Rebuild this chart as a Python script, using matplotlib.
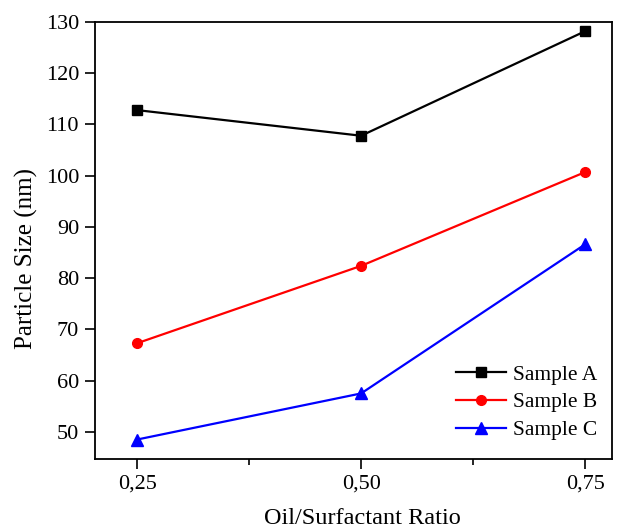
import matplotlib
matplotlib.use("Agg")
import matplotlib.pyplot as plt
from matplotlib.ticker import MultipleLocator, FixedLocator

plt.rcParams['font.family'] = ['Liberation Serif', 'DejaVu Serif']

ratios = [0.25, 0.50, 0.75]
tick_labels = ['0,25', '0,50', '0,75']
sample_a = [112.8, 107.8, 128.2]
sample_b = [67.3, 82.4, 100.7]
sample_c = [48.5, 57.5, 86.6]

fig = plt.figure(figsize=(6.22, 5.30), dpi=100)
ax = fig.add_axes([95/622, 1-459/530, (612-95)/622, (459-22)/530])

ax.plot(ratios, sample_a, color='black', marker='s', markersize=6.5, lw=1.6, label='Sample A')
ax.plot(ratios, sample_b, color='red', marker='o', markersize=7, lw=1.6, label='Sample B')
ax.plot(ratios, sample_c, color='blue', marker='^', markersize=8, lw=1.6, label='Sample C')

ax.set_xlim(0.203, 0.78)
ax.set_ylim(44.7, 130)
ax.set_xticks(ratios)
ax.set_xticklabels(tick_labels)
ax.xaxis.set_minor_locator(FixedLocator([0.375, 0.625]))
ax.yaxis.set_major_locator(MultipleLocator(10))
ax.tick_params(axis='both', which='major', direction='out', length=7, width=1.2,
               labelsize=16, pad=4.5, top=False, right=False)
ax.tick_params(axis='x', which='minor', direction='out', length=4, width=1.2)
for s in ax.spines.values():
    s.set_linewidth(1.3)

ax.set_xlabel('Oil/Surfactant Ratio', fontsize=17.5)
ax.xaxis.set_label_coords(0.518, -0.112)
ax.set_ylabel('Particle Size (nm)', fontsize=18)
ax.yaxis.set_label_coords(-0.11, 0.458)

leg = ax.legend(loc='upper left', frameon=False, fontsize=15.5, handlelength=2.3,
                bbox_to_anchor=((458-95)/517 - 0.02, (459-356)/437), borderaxespad=0,
                labelspacing=0.36, handletextpad=0.35)

fig.savefig('out.png', dpi=100)
